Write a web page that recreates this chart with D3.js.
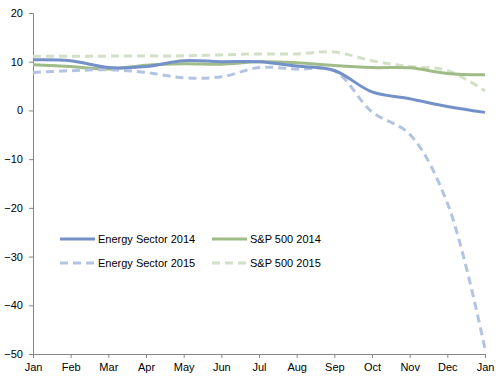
<!DOCTYPE html>
<html><head><meta charset="utf-8">
<script src="https://cdn.jsdelivr.net/npm/d3@7"></script>
<style>body{margin:0;background:#fff}svg{display:block}text{font-family:"Liberation Sans",Arial,sans-serif;font-size:11px;fill:#000}</style>
</head><body>
<svg id="c" width="504" height="383"></svg>
<script>
const months = ["Jan","Feb","Mar","Apr","May","Jun","Jul","Aug","Sep","Oct","Nov","Dec","Jan "];
const yTicks = [20,10,0,-10,-20,-30,-40,-50];
const energy2014 = [10.4,10.2,8.8,9.0,10.2,10.0,10.0,9.1,8.2,3.8,2.4,0.8,-0.4];
const sp2014 = [9.4,9.0,8.5,9.3,9.6,9.5,10.0,9.8,9.2,8.8,8.75,7.6,7.3];
const energy2015 = [7.8,8.15,8.35,7.8,6.7,6.9,8.8,8.5,8.1,-0.3,-4.9,-19.0,-49.0];
const sp2015 = [11.1,11.1,11.15,11.2,11.2,11.4,11.6,11.6,12.0,10.2,9.0,8.2,4.0];
const seriesNames = ["Energy Sector 2014","S&P 500 2014","Energy Sector 2015","S&P 500 2015"];

const svg = d3.select("#c");
const x = d3.scalePoint().domain(months).range([33,485]);
const y = d3.scaleLinear().domain([-50,20]).range([354,13]);
const axisColor = "#868686";

const gy = svg.append("g").attr("transform","translate(33,0)")
  .call(d3.axisLeft(y).tickValues(yTicks).tickSize(4).tickPadding(6).tickFormat(d3.format("d")));
const gx = svg.append("g").attr("transform","translate(0,354)")
  .call(d3.axisBottom(x).tickSize(4).tickPadding(5).tickFormat(d=>d.trim()));
[gx,gy].forEach(g=>{
  g.select(".domain").attr("stroke",axisColor).attr("stroke-width",1);
  g.selectAll(".tick line").attr("stroke",axisColor);
  g.selectAll(".tick text").attr("fill","#000").style("font-size","11px").style("font-family","'Liberation Sans',Arial,sans-serif");
});

const styles = [
  {data:energy2014,color:"#7391C8",dash:null},
  {data:sp2014,color:"#9FBC88",dash:null},
  {data:energy2015,color:"#B3C4E3",dash:"8,5"},
  {data:sp2015,color:"#D2E0C5",dash:"8,5"}
];
const line = d3.line().x((d,i)=>x(months[i])).y(d=>y(d)).curve(d3.curveCatmullRom.alpha(0.5));
const order = [3,1,2,0];
order.forEach(k=>{
  const s = styles[k];
  svg.append("path").attr("d",line(s.data)).attr("fill","none")
    .attr("stroke",s.color).attr("stroke-width",3)
    .attr("stroke-dasharray",s.dash).attr("stroke-linejoin","round");
});

const legPos = [[60,239],[212,239],[60,263],[212,263]];
seriesNames.forEach((n,i)=>{
  const [lx,ly] = legPos[i];
  const s = styles[i];
  svg.append("line").attr("x1",lx).attr("x2",lx+35).attr("y1",ly).attr("y2",ly)
    .attr("stroke",s.color).attr("stroke-width",3).attr("stroke-dasharray",s.dash);
  svg.append("text").attr("x",lx+38).attr("y",ly).attr("dy","0.35em").text(n);
});
</script>
</body></html>
